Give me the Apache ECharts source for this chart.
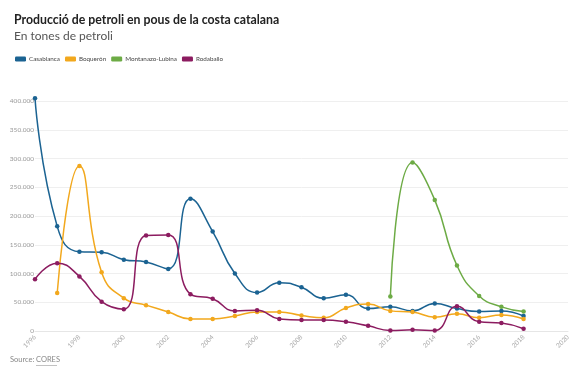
<!DOCTYPE html>
<html>
<head>
<meta charset="utf-8">
<script src="https://cdn.jsdelivr.net/npm/echarts@6/dist/echarts.min.js"></script>
<style>
html,body{margin:0;padding:0;background:#fff;}
#chart{width:585px;height:375px;}
</style>
</head>
<body>
<div id="chart"></div>
<script>
const years = [1996,1997,1998,1999,2000,2001,2002,2003,2004,2005,2006,2007,2008,2009,2010,2011,2012,2013,2014,2015,2016,2017,2018];
const casablanca = [405000,182000,138000,137000,124000,120000,108000,230000,173000,100000,67000,84000,76000,57000,63000,39000,42000,35000,48000,39000,34000,35000,26000];
const boqueron = [null,66000,287000,102000,57000,45000,33000,21000,21000,26000,33000,33000,27000,23000,40000,47000,35000,33000,24000,30000,23000,28000,21000];
const montanazo = [null,null,null,null,null,null,null,null,null,null,null,null,null,null,null,null,60000,293000,228000,114000,61000,42000,34000];
const rodaballo = [90000,118000,95000,51000,38000,166000,167000,64000,56000,35000,36000,21000,19000,19000,16000,9000,1000,2000,1000,43000,16000,14000,4000];
const seriesNames = ['Casablanca','Boquerón','Montanazo-Lubina','Rodaballo'];
const colors = ['#1b6392','#f2a81d','#6dab45','#8c1c60'];

function pairs(arr){
  const out = [];
  arr.forEach((v,i)=>{ if(v!==null) out.push([years[i], v]); });
  return out;
}
function fmt(v){
  return String(v).replace(/\B(?=(\d{3})+(?!\d))/g,'.');
}
const allData = [casablanca, boqueron, montanazo, rodaballo];
const chart = echarts.init(document.getElementById('chart'), null, {renderer:'canvas'});
chart.setOption({
  animation:false,
  backgroundColor:'#fff',
  color: colors,
  title:[
    {text:'Producció de petroli en pous de la costa catalana', left:9, top:9,
     textStyle:{fontFamily:'Lato', fontWeight:'bold', fontSize:12.3, color:'#222'}},
    {text:'En tones de petroli', left:9, top:25,
     textStyle:{fontFamily:'Lato', fontWeight:'normal', fontSize:12, color:'#555'}}
  ],
  legend:{
    left:10, top:51, icon:'roundRect', itemWidth:11, itemHeight:5, itemGap:5,
    textStyle:{fontFamily:'Lato', fontSize:6.3, color:'#444', padding:[0,0,0,-2]},
    data: seriesNames
  },
  graphic:[
    {type:'text', left:10, top:356, style:{text:'Source: ', font:'7.5px Lato', fill:'#888'}},
    {type:'text', left:36, top:356, style:{text:'CORES', font:'7.5px Lato', fill:'#888'}},
    {type:'rect', left:36, top:365, shape:{width:21, height:0.6}, style:{fill:'#999'}}
  ],
  grid:{left:35, right:17, top:101, bottom:44, containLabel:false},
  xAxis:{
    type:'value', min:1996, max:2020, interval:2,
    axisLine:{show:true, lineStyle:{color:'#e6e6e6'}},
    axisTick:{show:false},
    splitLine:{show:false},
    axisLabel:{rotate:45, fontSize:6.5, color:'#aaa', fontFamily:'Lato', margin:5, formatter:v=>String(v)}
  },
  yAxis:{
    type:'value', min:0, max:400000, interval:50000,
    axisLine:{show:false}, axisTick:{show:false},
    splitLine:{lineStyle:{color:'#efefef'}},
    axisLabel:{fontSize:6.5, color:'#999', fontFamily:'Lato', margin:1, formatter:v=>fmt(v)}
  },
  series: allData.map((arr,i)=>({
    name: seriesNames[i], type:'line', smooth:0.5, clip:false,
    data: pairs(arr),
    symbol:'circle', symbolSize:4.5, showSymbol:true,
    lineStyle:{width:1.5, color:colors[i]},
    itemStyle:{color:colors[i]}
  }))
});
</script>
</body>
</html>
